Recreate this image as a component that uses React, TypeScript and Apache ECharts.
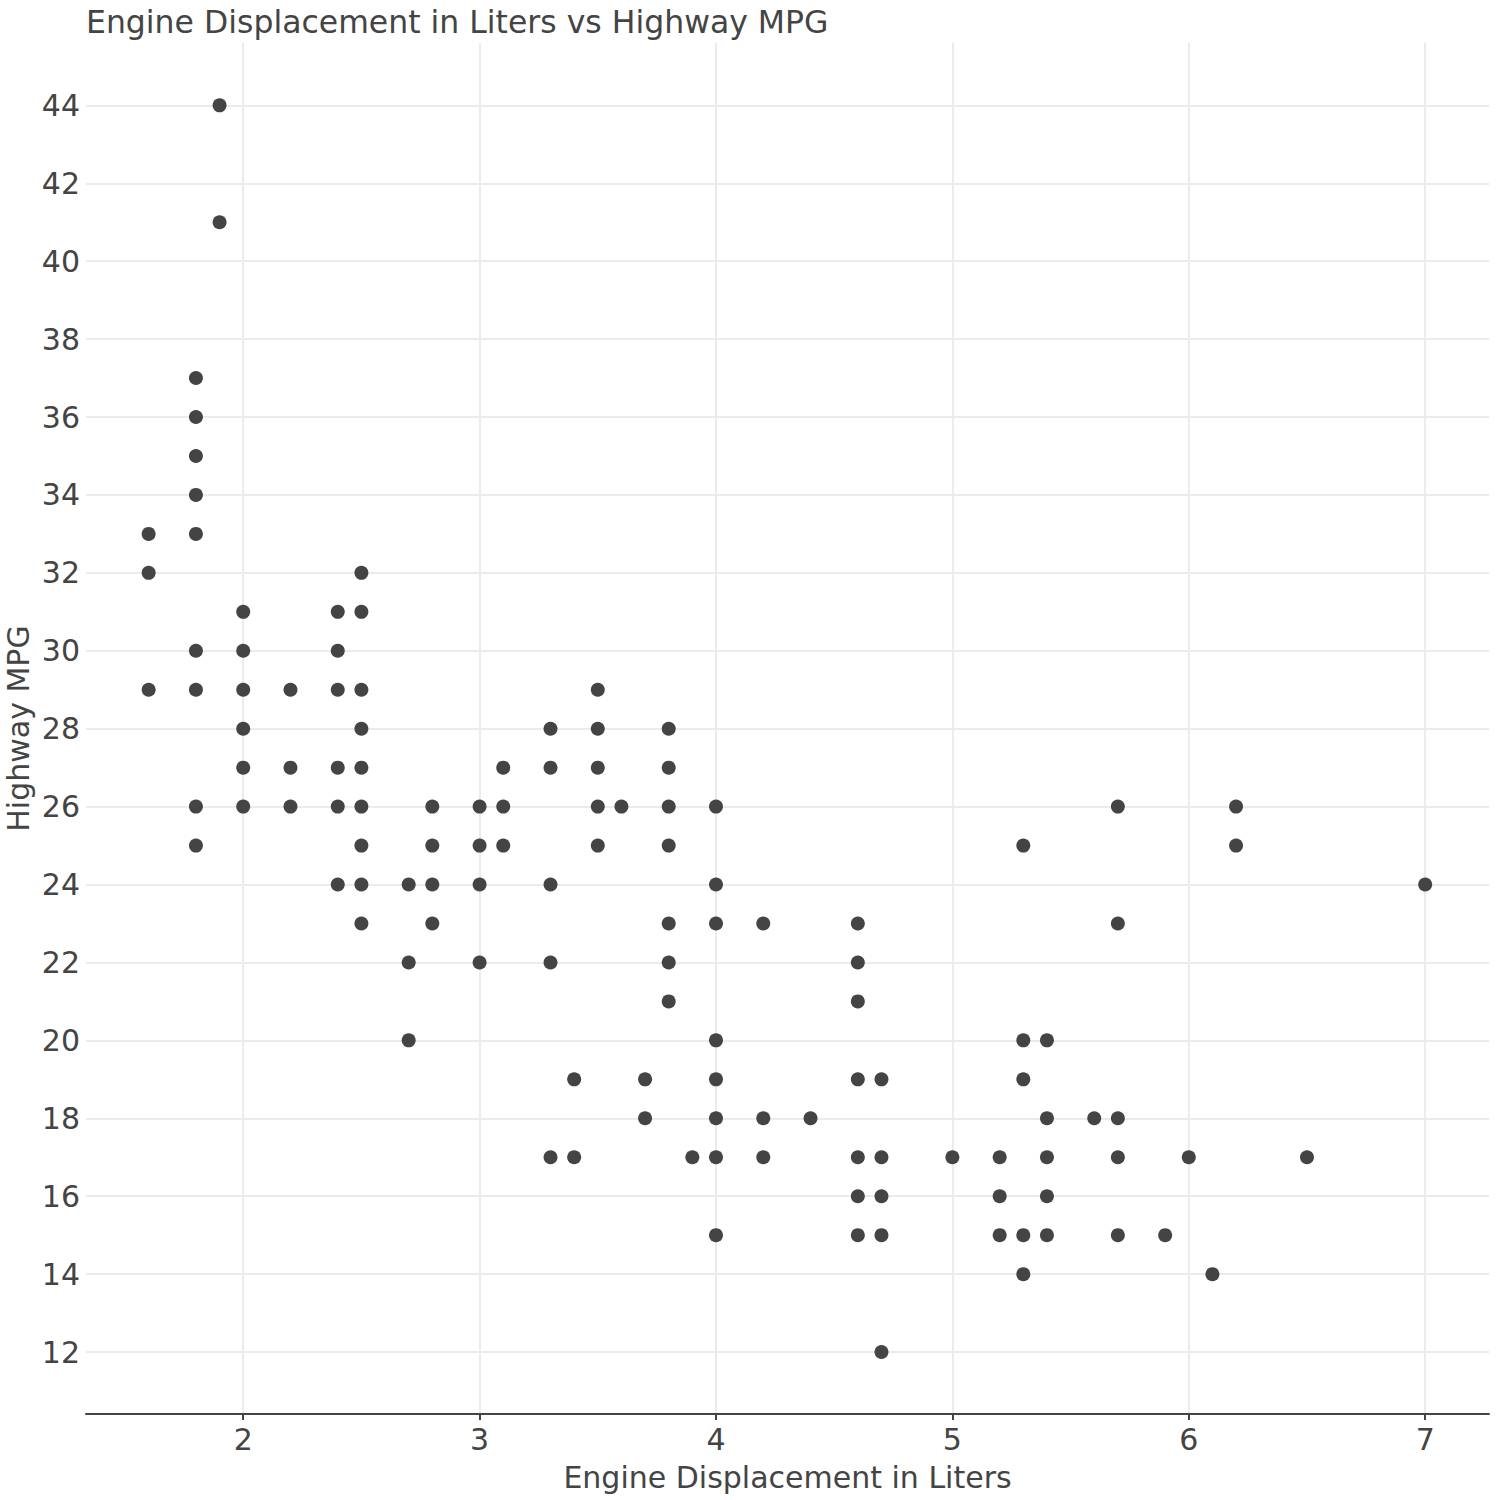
import React, { useEffect, useRef } from "react";
import * as echarts from "echarts";

const titleText = "Engine Displacement in Liters vs Highway MPG";
const xAxisTitle = "Engine Displacement in Liters";
const yAxisTitle = "Highway MPG";

const xTicks = [2, 3, 4, 5, 6, 7];
const yTicks = [12, 14, 16, 18, 20, 22, 24, 26, 28, 30, 32, 34, 36, 38, 40, 42, 44];

// distinct (displacement, highway mpg) points
const displ = [
  1.6, 1.6, 1.6,
  1.8, 1.8, 1.8, 1.8, 1.8, 1.8, 1.8, 1.8, 1.8,
  1.9, 1.9,
  2.0, 2.0, 2.0, 2.0, 2.0, 2.0,
  2.2, 2.2, 2.2,
  2.4, 2.4, 2.4, 2.4, 2.4, 2.4,
  2.5, 2.5, 2.5, 2.5, 2.5, 2.5, 2.5, 2.5, 2.5,
  2.7, 2.7, 2.7,
  2.8, 2.8, 2.8, 2.8,
  3.0, 3.0, 3.0, 3.0,
  3.1, 3.1, 3.1,
  3.3, 3.3, 3.3, 3.3, 3.3,
  3.4, 3.4,
  3.5, 3.5, 3.5, 3.5, 3.5,
  3.6,
  3.7, 3.7,
  3.8, 3.8, 3.8, 3.8, 3.8, 3.8, 3.8,
  3.9,
  4.0, 4.0, 4.0, 4.0, 4.0, 4.0, 4.0, 4.0,
  4.2, 4.2, 4.2,
  4.4,
  4.6, 4.6, 4.6, 4.6, 4.6, 4.6, 4.6,
  4.7, 4.7, 4.7, 4.7, 4.7,
  5.0,
  5.2, 5.2, 5.2,
  5.3, 5.3, 5.3, 5.3, 5.3,
  5.4, 5.4, 5.4, 5.4, 5.4,
  5.6,
  5.7, 5.7, 5.7, 5.7, 5.7,
  5.9,
  6.0,
  6.1,
  6.2, 6.2,
  6.5,
  7.0,
];
const hwy = [
  33, 32, 29,
  37, 36, 35, 34, 33, 30, 29, 26, 25,
  44, 41,
  31, 30, 29, 28, 27, 26,
  29, 27, 26,
  31, 30, 29, 27, 26, 24,
  32, 31, 29, 28, 27, 26, 25, 24, 23,
  24, 22, 20,
  26, 25, 24, 23,
  26, 25, 24, 22,
  27, 26, 25,
  28, 27, 24, 22, 17,
  19, 17,
  29, 28, 27, 26, 25,
  26,
  19, 18,
  28, 27, 26, 25, 23, 22, 21,
  17,
  26, 24, 23, 20, 19, 18, 17, 15,
  23, 18, 17,
  18,
  23, 22, 21, 19, 17, 16, 15,
  19, 17, 16, 15, 12,
  17,
  17, 16, 15,
  25, 20, 19, 15, 14,
  20, 18, 17, 16, 15,
  18,
  26, 23, 18, 17, 15,
  15,
  17,
  14,
  26, 25,
  17,
  24,
];

const FONT = "DejaVu Sans";
const TEXT = "#444444";

export default function App() {
  const ref = useRef<HTMLDivElement>(null);
  useEffect(() => {
    if (!ref.current) return;
    const chart = echarts.init(ref.current, null, { renderer: "svg" });
    const points = displ.map((d, i) => [d, hwy[i]]);
    chart.setOption({
      animation: false,
      backgroundColor: "#ffffff",
      textStyle: { fontFamily: FONT, color: TEXT },
      title: {
        text: titleText,
        left: 81,
        top: 1,
        textStyle: { fontFamily: FONT, fontSize: 31.5, fontWeight: "normal", color: TEXT },
      },
      grid: {
        left: 86,
        right: 11,
        top: 43,
        bottom: 86,
        containLabel: false,
        outerBoundsMode: "none",
      },
      xAxis: {
        type: "value",
        min: 1.335,
        max: 7.27,
        name: xAxisTitle,
        nameLocation: "middle",
        nameGap: 48,
        nameMoveOverlap: false,
        nameTextStyle: { fontFamily: FONT, fontSize: 30, color: TEXT },
        axisLine: { show: true, lineStyle: { color: "#444444", width: 2 } },
        axisTick: { show: true, customValues: xTicks, length: 6, lineStyle: { color: "#444444", width: 2 } },
        axisLabel: { customValues: xTicks, fontFamily: FONT, fontSize: 30, color: TEXT, margin: 10 },
        splitLine: { show: true, lineStyle: { color: "#ebebeb", width: 2 } },
      },
      yAxis: {
        type: "value",
        min: 10.41,
        max: 45.6,
        name: yAxisTitle,
        nameLocation: "middle",
        nameGap: 53,
        nameMoveOverlap: false,
        nameTextStyle: { fontFamily: FONT, fontSize: 30, color: TEXT },
        axisLine: { show: false },
        axisTick: { show: false, customValues: yTicks },
        axisLabel: { customValues: yTicks, fontFamily: FONT, fontSize: 30, color: TEXT, margin: 6 },
        splitLine: { show: true, lineStyle: { color: "#ebebeb", width: 2 } },
      },
      series: [
        {
          type: "scatter",
          data: points,
          symbol: "circle",
          symbolSize: 14,
          itemStyle: { color: "#444444", opacity: 1 },
          silent: true,
        },
      ],
    });
    return () => chart.dispose();
  }, []);
  return (
    <div
      ref={ref}
      style={{ position: "fixed", left: 0, top: 0, width: 1500, height: 1500, background: "#fff" }}
    />
  );
}
